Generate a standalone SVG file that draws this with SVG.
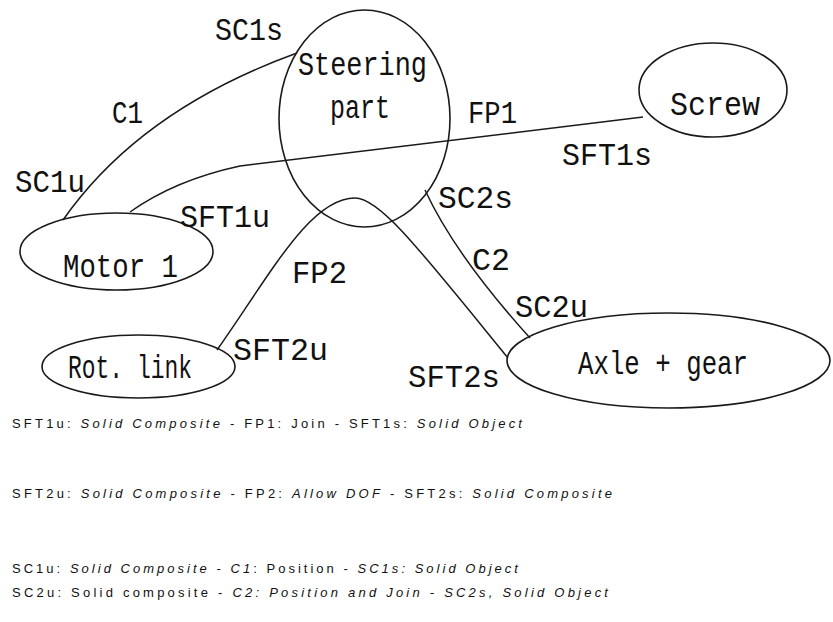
<svg xmlns="http://www.w3.org/2000/svg" width="833" height="622" viewBox="0 0 833 622">
<style>
.n{fill:none;stroke:#1a1a1a;stroke-width:1.6}
.c{fill:none;stroke:#1a1a1a;stroke-width:1.5}
.t{font-family:"Liberation Mono","DejaVu Sans Mono",monospace;font-size:33px;fill:#111}
.l{font-family:"Liberation Mono","DejaVu Sans Mono",monospace;font-size:31px;fill:#111}
.g{font-family:"Liberation Sans",Arial,sans-serif;font-size:13px;fill:#111}
.i{font-style:italic}
</style>
<rect width="833" height="622" fill="#fff"/>
<g id="connectors">
<path class="c" d="M63,220 Q140,110 297,53"/>
<path class="c" d="M130,212 Q175,180 240,166 L643,117"/>
<path class="c" d="M217,350 C270,275 310,198 355,198 C380,198 420,250 508,358"/>
<path class="c" d="M425,190 Q455,255 530,338"/>
</g>
<g id="steering">
<ellipse class="n" cx="364.5" cy="118.5" rx="85.5" ry="108.5"/>
<text class="t" x="298" y="75" textLength="129" lengthAdjust="spacingAndGlyphs">Steering</text>
<text class="t" x="330" y="118" textLength="60" lengthAdjust="spacingAndGlyphs">part</text>
</g>
<g id="screw">
<ellipse class="n" cx="713" cy="90" rx="74" ry="47"/>
<text class="t" x="670" y="115" textLength="90" lengthAdjust="spacingAndGlyphs">Screw</text>
</g>
<g id="motor1">
<ellipse class="n" cx="116.5" cy="251.5" rx="96.5" ry="38.5"/>
<text class="t" x="63" y="277" textLength="115" lengthAdjust="spacingAndGlyphs">Motor 1</text>
</g>
<g id="rotlink">
<ellipse class="n" cx="138.5" cy="366.5" rx="96.5" ry="31.5"/>
<text class="t" x="68" y="378" textLength="124" lengthAdjust="spacingAndGlyphs">Rot. link</text>
</g>
<g id="axlegear">
<ellipse class="n" cx="668.5" cy="360.5" rx="161.5" ry="47.5"/>
<text class="t" x="578" y="374" textLength="170" lengthAdjust="spacingAndGlyphs">Axle + gear</text>
</g>
<g id="labels">
<text class="l" x="215" y="40" textLength="68" lengthAdjust="spacingAndGlyphs">SC1s</text>
<text class="l" x="112" y="123" textLength="31" lengthAdjust="spacingAndGlyphs">C1</text>
<text class="l" x="15" y="192" textLength="70" lengthAdjust="spacingAndGlyphs">SC1u</text>
<text class="l" x="180" y="227" textLength="90" lengthAdjust="spacingAndGlyphs">SFT1u</text>
<text class="l" x="468" y="123" textLength="49" lengthAdjust="spacingAndGlyphs">FP1</text>
<text class="l" x="562" y="165" textLength="90" lengthAdjust="spacingAndGlyphs">SFT1s</text>
<text class="l" x="438" y="208" textLength="75" lengthAdjust="spacingAndGlyphs">SC2s</text>
<text class="l" x="472" y="270" textLength="38" lengthAdjust="spacingAndGlyphs">C2</text>
<text class="l" x="515" y="317" textLength="73" lengthAdjust="spacingAndGlyphs">SC2u</text>
<text class="l" x="292" y="283" textLength="55" lengthAdjust="spacingAndGlyphs">FP2</text>
<text class="l" x="233" y="360" textLength="95" lengthAdjust="spacingAndGlyphs">SFT2u</text>
<text class="l" x="408" y="387" textLength="92" lengthAdjust="spacingAndGlyphs">SFT2s</text>
</g>
<g id="legend">
<text class="g" x="12" y="428" textLength="510" lengthAdjust="spacing">SFT1u: <tspan class="i">Solid Composite</tspan> - FP1: Join - SFT1s: <tspan class="i">Solid Object</tspan></text>
<text class="g" x="12" y="498" textLength="600" lengthAdjust="spacing">SFT2u: <tspan class="i">Solid Composite</tspan> - FP2: <tspan class="i">Allow DOF</tspan> - SFT2s: <tspan class="i">Solid Composite</tspan></text>
<text class="g" x="12" y="573" textLength="506" lengthAdjust="spacing">SC1u: <tspan class="i">Solid Composite</tspan> - <tspan class="i">C1</tspan>: Position - <tspan class="i">SC1s: Solid Object</tspan></text>
<text class="g" x="12" y="597" textLength="596" lengthAdjust="spacing">SC2u: Solid composite - <tspan class="i">C2: Position and Join - SC2s, Solid Object</tspan></text>
</g>
</svg>
